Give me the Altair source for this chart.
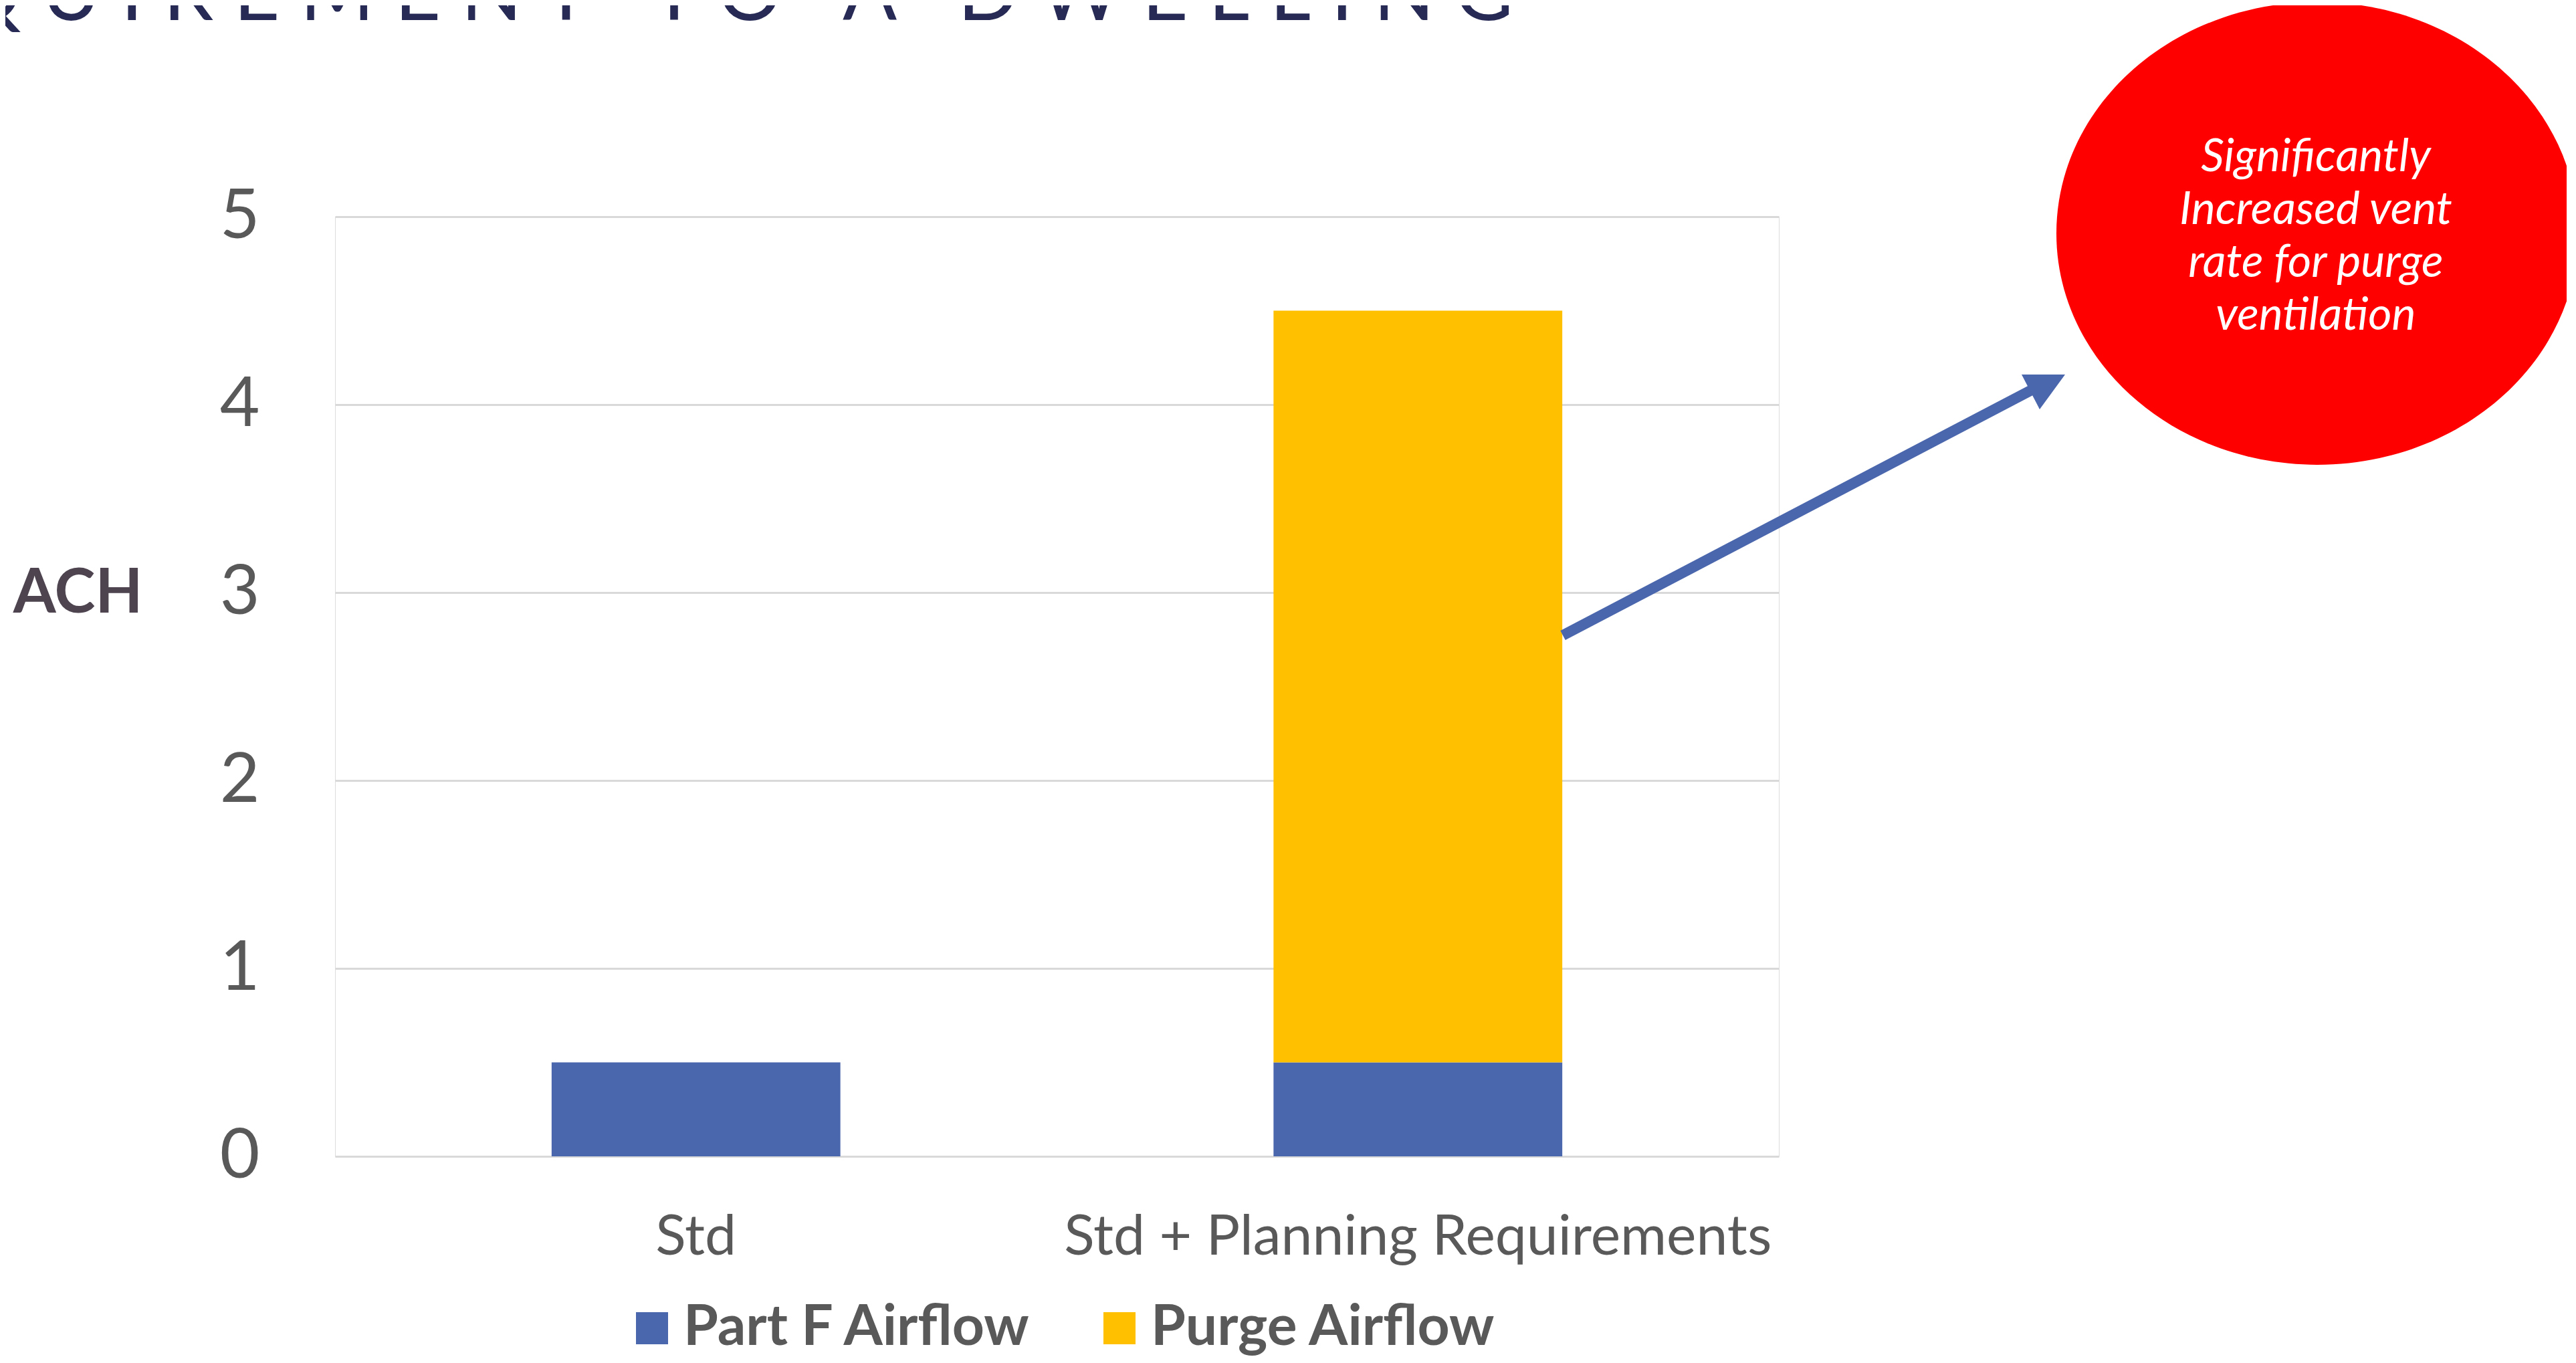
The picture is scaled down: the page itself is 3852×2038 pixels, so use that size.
import altair as alt
import pandas as pd

# ---- data ----
categories = ["Std", "Std + Planning Requirements"]
series_names = ["Part F Airflow", "Purge Airflow"]
part_f_values = [0.5, 0.5]
purge_values = [0.0, 4.0]
series_colors = ["#4A66AC", "#FFC000"]
y_ticks = [0, 1, 2, 3, 4, 5]
callout_lines = ["Significantly", "Increased vent", "rate for purge", "ventilation"]
title_text = "REQUIREMENT TO A DWELLING"

rows = []
for i, c in enumerate(categories):
    rows.append({"category": c, "series": series_names[0], "value": part_f_values[i], "order": 0})
    rows.append({"category": c, "series": series_names[1], "value": purge_values[i], "order": 1})
df = pd.DataFrame(rows)

# ---- layout (pixels) ----
PLOT_W, PLOT_H = 2159, 1405
PAD = {"left": 493, "top": 316, "right": 1178, "bottom": 299}

bars = alt.Chart(df).mark_bar().encode(
    x=alt.X(
        "category:N", sort=categories,
        scale=alt.Scale(paddingInner=0.6, paddingOuter=0.3),
        axis=alt.Axis(title=None, labelAngle=0, labelFont="Lato", labelFontWeight=400,
                      labelFontSize=84, labelColor="#595959", labelPadding=80,
                      labelLimit=0, ticks=False, tickSize=0, domain=False, grid=False),
    ),
    y=alt.Y(
        "value:Q", stack="zero",
        scale=alt.Scale(domain=[0, 5], nice=False),
        axis=alt.Axis(values=y_ticks, title="ACH", titleAngle=0, titleX=-385, titleY=563,
                      titleAlign="center", titleBaseline="middle", titleFont="Lato",
                      titleFontSize=92, titleFontWeight="bold", titleColor="#4D4450",
                      labelFont="Lato", labelFontWeight=400, labelFontSize=103,
                      labelColor="#595959", labelPadding=113, ticks=False, tickSize=0,
                      domain=False, gridColor="#D9D9D9", gridWidth=3),
    ),
    color=alt.Color(
        "series:N",
        scale=alt.Scale(domain=series_names, range=series_colors),
        legend=alt.Legend(title=None, orient="none", direction="horizontal",
                          legendX=432, legendY=1620, symbolType="square",
                          symbolSize=2304, symbolStrokeWidth=0, symbolOpacity=1,
                          labelFont="Lato", labelFontSize=84, labelFontWeight="bold",
                          labelColor="#595959", labelOffset=5, columnPadding=88,
                          labelLimit=0, padding=0),
    ),
    order=alt.Order("order:Q"),
)

ann = alt.Chart(pd.DataFrame({"k": [0]}))

spaced_title = "\u2005".join(list(title_text))
title_mark = ann.mark_text(
    text=spaced_title, font="Lato", fontWeight=400, fontSize=120,
    color="#262A55", align="right", baseline="alphabetic",
).encode(x=alt.value(1762), y=alt.value(-294))

ellipse = ann.mark_point(
    shape="M-1,0A1,0.887,0,1,1,1,0A1,0.887,0,1,1,-1,0Z",
    size=780 ** 2, filled=True, color="#FF0000", opacity=1, strokeWidth=0,
).encode(x=alt.value(2964), y=alt.value(25))

callout = ann.mark_text(
    text="\n".join(callout_lines), lineBreak="\n", font="Lato", fontStyle="italic",
    fontSize=68, lineHeight=79, color="white", align="center", baseline="top",
).encode(x=alt.value(2962), y=alt.value(-122))

arrow = ann.mark_rule(color="#4A66AC", strokeWidth=16).encode(
    x=alt.value(1836), y=alt.value(626), x2=alt.value(2539), y2=alt.value(258)
)

head = ann.mark_point(
    shape="M-0.775,-0.425L0.85,-0.425L-0.1,0.875Z", size=6400, filled=True,
    color="#4A66AC", opacity=1, strokeWidth=0,
).encode(x=alt.value(2553), y=alt.value(253))

chart = alt.layer(bars, title_mark, ellipse, callout, arrow, head).properties(
    width=PLOT_W, height=PLOT_H, padding=PAD,
    autosize=alt.AutoSizeParams(type="none"),
).configure_view(stroke="transparent").configure(background="white")

chart.save("out.html", embed_options={"renderer": "svg", "actions": False})
